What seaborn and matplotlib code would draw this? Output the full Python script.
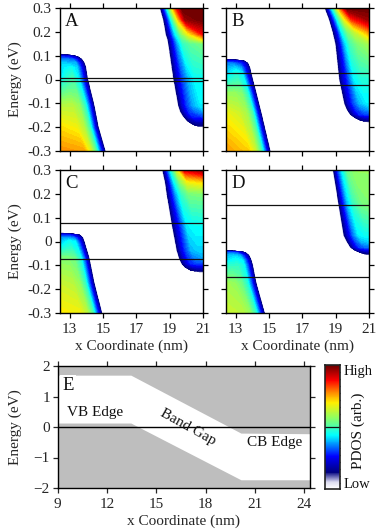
import numpy as np
import matplotlib
matplotlib.use('Agg')
import matplotlib.pyplot as plt
import seaborn as sns
from matplotlib.colors import LinearSegmentedColormap

sns.set_theme(style='ticks')
plt.rcParams['font.family'] = ['Liberation Serif', 'DejaVu Serif']
plt.rcParams['axes.linewidth'] = 1.0

# colour ramp of the PDOS scale
cmap_stops = [0.0, 0.05, 0.13, 0.26, 0.43, 0.58, 0.70, 0.78, 0.88, 1.0]
cmap_colors = ['#ffffff', '#dcdcf0', '#00007f', '#0000ff', '#00ffff', '#90ff60',
               '#ffee00', '#ff9000', '#ff0000', '#6e0000']
pdos = LinearSegmentedColormap.from_list('pdos', list(zip(cmap_stops, cmap_colors)), N=256)

# distance from the band edge (nm) for each column of the tables
vb_offset = [0, 0.07, 0.28, 0.55, 0.9, 1.3, 3.0]
cb_offset = [0, 0.08, 0.28, 0.55, 0.9, 1.35, 2.8]

# panel A
a_vb_e = [-0.30, -0.20, -0.11, 0.005, 0.05, 0.07, 0.085, 0.097, 0.104, 0.108]
a_vb_x = [15.16, 14.75, 14.5, 14.1, 14.0, 13.9, 13.75, 13.5, 13.0, 12.4]
a_vb_z = [[0, .15, .30, .50, .66, .76, .78],
          [0, .15, .30, .50, .62, .68, .71],
          [0, .15, .30, .47, .58, .62, .62],
          [0, .15, .28, .42, .50, .47, .40],
          [0, .15, .27, .40, .44, .42, .40],
          [0, .15, .26, .38, .38, .40, .40],
          [0, .14, .25, .32, .34, .34, .34],
          [0, .13, .22, .25, .27, .27, .27],
          [0, .09, .13, .15, .16, .16, .16],
          [0, 0, 0, 0, 0, 0, 0]]
a_cb_e = [-0.20, -0.197, -0.19, -0.175, -0.155, -0.135, -0.11, 0.005, 0.15, 0.17, 0.19, 0.25, 0.30]
a_cb_x = [21.0, 20.7, 20.4, 20.05, 19.8, 19.62, 19.5, 19.2, 18.9, 18.85, 18.75, 18.6, 18.4]
a_cb_z = [[0, 0, 0, 0, 0, 0, 0],
          [0, .08, .09, .09, .09, .09, .09],
          [0, .13, .14, .14, .14, .14, .14],
          [0, .13, .17, .20, .20, .20, .20],
          [0, .13, .20, .28, .28, .30, .30],
          [0, .13, .21, .29, .33, .36, .38],
          [0, .13, .22, .30, .37, .42, .42],
          [0, .13, .22, .30, .38, .44, .44],
          [0, .13, .24, .36, .48, .52, .55],
          [0, .13, .24, .38, .52, .60, .72],
          [0, .13, .24, .40, .55, .68, .88],
          [0, .13, .28, .48, .72, .96, 1.0],
          [0, .13, .30, .55, .82, 1.0, 1.0]]

# panel B
b_vb_e = [-0.30, -0.14, -0.057, 0.026, 0.05, 0.068, 0.078, 0.083, 0.085]
b_vb_x = [15.1, 14.56, 14.26, 13.96, 13.88, 13.76, 13.55, 13.1, 12.4]
b_vb_z = [[0, .15, .30, .50, .64, .72, .77],
          [0, .15, .30, .50, .60, .64, .68],
          [0, .15, .30, .47, .56, .58, .58],
          [0, .15, .26, .42, .46, .42, .36],
          [0, .15, .25, .36, .40, .38, .36],
          [0, .15, .25, .30, .34, .34, .34],
          [0, .12, .20, .25, .25, .25, .25],
          [0, .09, .13, .15, .15, .15, .15],
          [0, 0, 0, 0, 0, 0, 0]]
b_cb_e = [-0.18, -0.177, -0.172, -0.16, -0.147, -0.125, -0.10, 0.0, 0.15, 0.20, 0.25, 0.30]
b_cb_x = [21.0, 20.75, 20.46, 20.12, 19.86, 19.65, 19.5, 19.2, 18.97, 18.8, 18.6, 18.33]
b_cb_z = [[0, 0, 0, 0, 0, 0, 0],
          [0, .08, .09, .09, .09, .09, .09],
          [0, .13, .14, .14, .14, .14, .14],
          [0, .13, .17, .20, .21, .21, .21],
          [0, .13, .20, .28, .30, .30, .30],
          [0, .13, .21, .29, .34, .37, .38],
          [0, .13, .22, .30, .38, .42, .42],
          [0, .13, .22, .30, .42, .46, .46],
          [0, .13, .24, .38, .50, .56, .60],
          [0, .13, .24, .42, .55, .64, .78],
          [0, .13, .28, .46, .66, .84, .96],
          [0, .13, .30, .52, .78, 1.0, 1.0]]

# panel C
c_vb_e = [-0.30, -0.175, -0.07, 0.0, 0.015, 0.027, 0.033, 0.037]
c_vb_x = [14.96, 14.5, 14.2, 13.9, 13.82, 13.65, 13.2, 12.4]
c_vb_z = [[0, .15, .30, .50, .62, .68, .70],
          [0, .15, .30, .48, .58, .62, .64],
          [0, .15, .30, .46, .54, .56, .56],
          [0, .15, .28, .42, .44, .40, .36],
          [0, .15, .25, .34, .37, .36, .34],
          [0, .13, .22, .27, .28, .28, .28],
          [0, .10, .14, .16, .16, .16, .16],
          [0, 0, 0, 0, 0, 0, 0]]
c_cb_e = [-0.13, -0.127, -0.12, -0.108, -0.093, -0.07, -0.036, 0.076, 0.20, 0.25, 0.30]
c_cb_x = [21.0, 20.6, 20.2, 19.9, 19.7, 19.55, 19.4, 19.1, 18.8, 18.7, 18.54]
c_cb_z = [[0, 0, 0, 0, 0, 0, 0],
          [0, .08, .09, .09, .09, .09, .09],
          [0, .13, .14, .15, .15, .15, .15],
          [0, .13, .17, .21, .22, .22, .22],
          [0, .13, .20, .28, .30, .30, .30],
          [0, .13, .21, .29, .34, .36, .37],
          [0, .13, .22, .30, .38, .40, .40],
          [0, .13, .22, .30, .42, .44, .44],
          [0, .13, .24, .36, .48, .55, .56],
          [0, .13, .26, .42, .56, .68, .72],
          [0, .13, .28, .46, .66, .90, .97]]

# panel D
d_vb_e = [-0.30, -0.175, -0.10, -0.078, -0.058, -0.045, -0.040, -0.037]
d_vb_x = [14.76, 14.26, 14.05, 13.96, 13.82, 13.6, 13.1, 12.4]
d_vb_z = [[0, .15, .30, .48, .58, .62, .64],
          [0, .15, .30, .46, .54, .58, .60],
          [0, .15, .29, .44, .48, .48, .46],
          [0, .15, .28, .42, .44, .42, .38],
          [0, .15, .26, .37, .40, .38, .36],
          [0, .14, .22, .30, .32, .32, .32],
          [0, .10, .14, .16, .16, .16, .16],
          [0, 0, 0, 0, 0, 0, 0]]
d_cb_e = [-0.057, -0.054, -0.047, -0.037, -0.024, 0.0, 0.027, 0.153, 0.30]
d_cb_x = [21.0, 20.75, 20.46, 20.12, 19.86, 19.65, 19.46, 19.16, 18.82]
d_cb_z = [[0, 0, 0, 0, 0, 0, 0],
          [0, .08, .09, .09, .09, .09, .09],
          [0, .13, .15, .16, .16, .16, .16],
          [0, .13, .18, .23, .24, .24, .24],
          [0, .13, .22, .30, .33, .33, .33],
          [0, .13, .22, .31, .38, .40, .40],
          [0, .13, .22, .32, .42, .44, .44],
          [0, .13, .25, .38, .48, .54, .56],
          [0, .13, .28, .42, .54, .58, .58]]

# horizontal level lines of each panel
a_lines = [0.005, -0.005]
b_lines = [0.027, -0.025]
c_lines = [0.076, -0.074]
d_lines = [0.153, -0.149]

# panel E band edges
e_x = [9, 13.46, 20.15, 24.32]
e_upper = [1.70, 1.70, -0.20, -0.22]
e_lower = [0.13, 0.13, -1.73, -1.73]

fig_w, fig_h = 382, 530
fig = plt.figure(figsize=(fig_w / 100, fig_h / 100), dpi=100)


def add_axes(x0, y0, x1, y1):
    return fig.add_axes([x0 / fig_w, 1 - y1 / fig_h, (x1 - x0) / fig_w, (y1 - y0) / fig_h])


def draw_band(ax, energy, edge, offset, table, side):
    # mesh follows the band edge, values come from the table
    e = np.array(energy)
    x = np.array(edge)[:, None]
    d = np.array(offset)[None, :]
    X = np.maximum(x - d, 12.4) if side == 'vb' else np.minimum(x + d, 21.0)
    Y = np.repeat(e[:, None], d.shape[1], axis=1)
    ax.contourf(X, Y, np.array(table), levels=np.linspace(0, 1, 65), cmap=pdos, vmin=0, vmax=1)


def fine_panel(box, letter, vb, cb, lines, left, bottom):
    ax = add_axes(*box)
    draw_band(ax, vb[0], vb[1], vb_offset, vb[2], 'vb')
    draw_band(ax, cb[0], cb[1], cb_offset, cb[2], 'cb')
    for level in lines:
        sns.lineplot(x=[12.4, 21], y=[level, level], color='#111111', lw=0.9, ax=ax, legend=False)
    ax.set_xlim(12.4, 21)
    ax.set_ylim(-0.3, 0.3)
    ax.set_xticks([13, 15, 17, 19, 21])
    ax.set_yticks([-0.3, -0.2, -0.1, 0, 0.1, 0.2, 0.3])
    ax.tick_params(top=True, right=True, direction='out', length=3.5, width=0.9, labelsize=11, pad=2,
                   labelleft=left, labelbottom=bottom, color='black')
    ax.tick_params(axis='x', pad=4)
    ax.set_yticklabels(['-0.3', '-0.2', '-0.1', '0', '0.1', '0.2', '0.3'] if left else [])
    if left:
        ax.set_ylabel('Energy (eV)', fontsize=11, labelpad=4)
    if bottom:
        ax.set_xlabel('x Coordinate (nm)', fontsize=11, labelpad=2)
    ax.text(0.04, 0.965, letter, transform=ax.transAxes, fontsize=13.5, ha='left', va='top', color='#111111')
    for s in ax.spines.values():
        s.set_color('black')
    return ax


fine_panel((59.5, 8, 203, 151), 'A', (a_vb_e, a_vb_x, a_vb_z), (a_cb_e, a_cb_x, a_cb_z), a_lines, True, False)
fine_panel((225.5, 8, 369, 151), 'B', (b_vb_e, b_vb_x, b_vb_z), (b_cb_e, b_cb_x, b_cb_z), b_lines, False, False)
fine_panel((59.5, 170, 203, 313), 'C', (c_vb_e, c_vb_x, c_vb_z), (c_cb_e, c_cb_x, c_cb_z), c_lines, True, True)
fine_panel((225.5, 170, 369, 313), 'D', (d_vb_e, d_vb_x, d_vb_z), (d_cb_e, d_cb_x, d_cb_z), d_lines, False, True)

# panel E
ax = add_axes(57.5, 366, 309.5, 488)
ax.fill_between(e_x, e_upper, 2, color='#bebebe', lw=0)
ax.fill_between(e_x, e_lower, -2, color='#bebebe', lw=0)
sns.lineplot(x=[9, 24.32], y=[0, 0], color='black', lw=1.0, ax=ax, legend=False)
ax.set_xlim(9, 24.32)
ax.set_ylim(-2, 2)
ax.set_xticks([9, 12, 15, 18, 21, 24])
ax.set_yticks([-2, -1, 0, 1, 2])
ax.tick_params(top=True, right=True, direction='out', length=3.5, width=0.9, labelsize=11, pad=2)
ax.tick_params(axis='x', pad=4)
ax.set_xlabel('x Coordinate (nm)', fontsize=11, labelpad=2)
ax.set_ylabel('Energy (eV)', fontsize=11, labelpad=8)
ax.text(9.3, 1.35, 'E', fontsize=13.5, ha='left', va='center', color='#111111',
        bbox=dict(facecolor='white', edgecolor='none', pad=1.5))
ax.text(9.6, 0.48, 'VB Edge', fontsize=11, ha='left', va='center', color='#111111')
ax.text(20.5, -0.52, 'CB Edge', fontsize=11, ha='left', va='center', color='#111111')
ax.text(16.95, 0.0, 'Band Gap', fontsize=11, ha='center', va='center', rotation=-29, color='#111111')
for s in ax.spines.values():
    s.set_color('black')

# colour scale
cax = add_axes(324.5, 365, 339.5, 489)
scale_levels = np.linspace(1, 0, 125)[:, None]
sns.heatmap(scale_levels, cmap=pdos, vmin=0, vmax=1, cbar=False, ax=cax, xticklabels=False, yticklabels=False)
cax.set_yticks(np.arange(7, 125, 7))
cax.set_yticklabels([])
cax.tick_params(axis='y', left=True, right=True, direction='in', length=3.5, width=0.9, color='#111111')
cax.axhline(62.5, color='#111111', lw=0.9)
for s in cax.spines.values():
    s.set_visible(True)
    s.set_color('#222222')
    s.set_linewidth(1.2)
cax.text(1.25, 1.0, 'High', transform=cax.transAxes, fontsize=10.5, ha='left', va='top', color='#111111')
cax.text(1.25, -0.02, 'Low', transform=cax.transAxes, fontsize=10.5, ha='left', va='bottom', color='#111111')
cax.text(2.25, 0.47, 'PDOS (arb.)', transform=cax.transAxes, fontsize=11, rotation=90, ha='center', va='center', color='#111111')

fig.savefig('out.png', dpi=100)
